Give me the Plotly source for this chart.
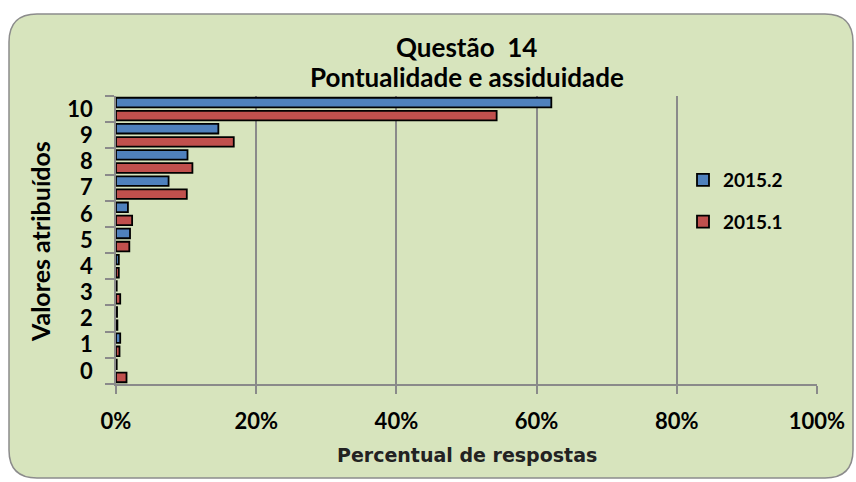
import plotly.graph_objects as go

categories = ["0", "1", "2", "3", "4", "5", "6", "7", "8", "9", "10"]
s2015_2 = [0.001, 0.006, 0.0015, 0.001, 0.004, 0.020, 0.017, 0.075, 0.102, 0.146, 0.621]
s2015_1 = [0.015, 0.005, 0.002, 0.006, 0.004, 0.019, 0.023, 0.101, 0.109, 0.168, 0.543]
x_ticks = [0, 0.2, 0.4, 0.6, 0.8, 1.0]
x_tick_labels = ["0%", "20%", "40%", "60%", "80%", "100%"]

W, H = 856, 482
L, R, T, B = 116, 817, 96, 384

def px(x):
    return (x - L) / (R - L)

def py(y):
    return (B - y) / (B - T)

FONT = "Lato"
BLUE = "#4F81BD"
RED = "#C0504D"
BG = "#D7E4BD"
GRID = "#8a8a8a"

fig = go.Figure()
fig.add_trace(go.Bar(
    y=categories, x=s2015_1, orientation="h", name="2015.1",
    marker=dict(color=RED, line=dict(color="black", width=1.8)),
    legendrank=2, legendgroup="b",
))
fig.add_trace(go.Bar(
    y=categories, x=s2015_2, orientation="h", name="2015.2",
    marker=dict(color=BLUE, line=dict(color="black", width=1.8)),
    legendrank=1, legendgroup="a",
))

# rounded background panel
x0, x1, y0, y1 = px(9), px(853), py(478), py(14)
rx, ry = 28 / (R - L), 28 / (B - T)
path = (f"M {x0+rx},{y1} L {x1-rx},{y1} Q {x1},{y1} {x1},{y1-ry} "
        f"L {x1},{y0+ry} Q {x1},{y0} {x1-rx},{y0} "
        f"L {x0+rx},{y0} Q {x0},{y0} {x0},{y0+ry} "
        f"L {x0},{y1-ry} Q {x0},{y1} {x0+rx},{y1} Z")
fig.add_shape(type="path", path=path, xref="paper", yref="paper",
              fillcolor=BG, line=dict(color="#8c8c8c", width=1.5), layer="below")

fig.add_annotation(text="Questão  14", x=0.5, y=py(47), xref="paper", yref="paper",
                   xanchor="center", yanchor="middle", showarrow=False,
                   font=dict(family=FONT, size=26, color="black", weight="bold"))
fig.add_annotation(text="Pontualidade e assiduidade", x=0.5, y=py(77), xref="paper", yref="paper",
                   xanchor="center", yanchor="middle", showarrow=False,
                   font=dict(family=FONT, size=26, color="black", weight="bold"))
fig.add_annotation(text="Percentual de respostas", x=0.5, y=py(455), xref="paper", yref="paper",
                   xanchor="center", yanchor="middle", showarrow=False,
                   font=dict(family="DejaVu Sans", size=19, color="#222222", weight="bold"))
fig.add_annotation(text="Valores atribuídos", x=px(40), y=py(242), xref="paper", yref="paper",
                   xanchor="center", yanchor="middle", showarrow=False, textangle=-90,
                   font=dict(family=FONT, size=25, color="black", weight="bold"))

fig.update_layout(
    width=W, height=H,
    margin=dict(l=L, r=W - R, t=T, b=H - B),
    paper_bgcolor="white", plot_bgcolor="white",
    barmode="group", bargap=0.0, bargroupgap=0.27,
    showlegend=True,
    legend=dict(x=px(683), y=py(161), xanchor="left", yanchor="top",
                bgcolor="rgba(0,0,0,0)", tracegroupgap=14,
                font=dict(family=FONT, size=19, color="black", weight="bold")),
    xaxis=dict(range=[0, 1], tickvals=x_ticks, ticktext=x_tick_labels,
               showgrid=True, gridcolor=GRID, gridwidth=1.5,
               showline=True, linecolor=GRID, linewidth=1.5,
               ticks="outside", ticklen=8, tickcolor=GRID, tickwidth=1.5,
               ticklabelstandoff=9,
               tickfont=dict(family=FONT, size=22, color="black", weight="bold"), zeroline=False),
    yaxis=dict(type="category", categoryorder="array", categoryarray=categories,
               tickvals=categories, ticktext=categories,
               tickson="boundaries", ticks="outside", ticklen=9, tickcolor=GRID, tickwidth=1.5,
               ticklabelstandoff=17,
               showline=True, linecolor=GRID, linewidth=1.5, showgrid=False,
               tickfont=dict(family=FONT, size=22, color="black", weight="bold")),
)

fig.write_html("out.html", config={"displayModeBar": False},
               post_script="document.body.style.margin='0';")
